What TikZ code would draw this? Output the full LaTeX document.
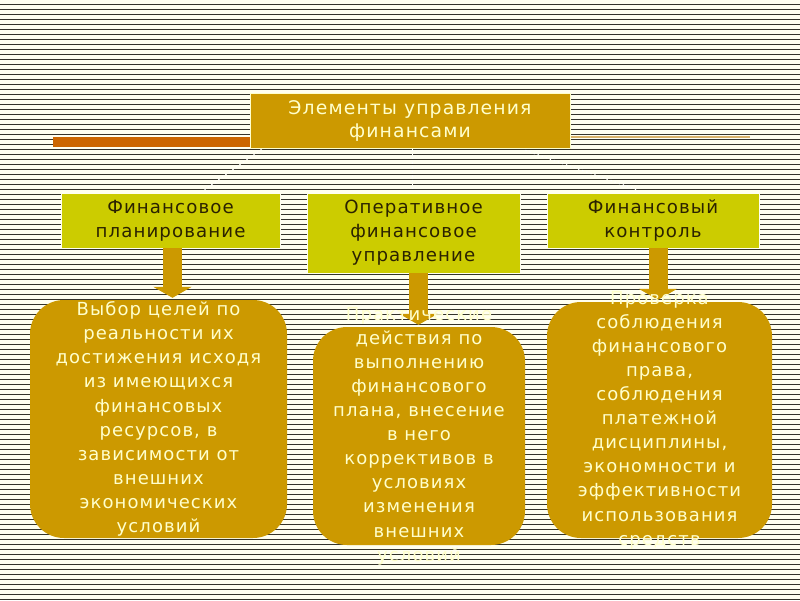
\documentclass[tikz,border=0pt]{standalone}
\usepackage{fontspec}
\setmainfont{DejaVu Sans}[LetterSpace=6]
\usetikzlibrary{arrows.meta,calc}
\definecolor{bgcream}{HTML}{FFFFF0}
\definecolor{stripecol}{HTML}{34332A}
\definecolor{gold}{HTML}{CC9900}
\definecolor{lime}{HTML}{CCCC00}
\definecolor{orangebar}{HTML}{CC6600}
\definecolor{tanline}{HTML}{D9B36B}
\definecolor{lighttext}{HTML}{FFFFCC}
\definecolor{darktext}{HTML}{2B2200}
\tikzset{
  stripe/.style={stripecol,line width=1.3pt},
  topbox/.style={fill=gold,draw=lighttext,line width=0.8pt,inner sep=0pt,
    minimum width=320pt,minimum height=55pt,align=center,text=lighttext,
    font=\fontsize{18.8}{23}\selectfont},
  midbox/.style={fill=lime,draw=bgcream,line width=0.8pt,inner sep=0pt,
    align=center,text=darktext,font=\fontsize{18.2}{24}\selectfont},
  roundbox/.style={fill=gold,rounded corners=34pt,inner sep=0pt},
  roundtext/.style={align=center,text=lighttext,inner sep=0pt,
    font=\fontsize{18}{24.1}\selectfont},
  blockarrow/.style={gold,line width=19pt,
    -{Triangle[width=38pt,length=11pt]},shorten >=2pt},
  dotcon/.style={white,line width=1.3pt,dash pattern=on 1.3pt off 3pt}
}
\begin{document}
\begin{tikzpicture}[x=1pt,y=-1pt]
\useasboundingbox (0,0) rectangle (800,600);
\fill[bgcream] (0,0) rectangle (800,600);
\foreach \i in {0,...,119}
  \draw[stripe] (0,{4.5+5*\i}) -- (800,{4.5+5*\i});

% decorative bars
\fill[orangebar] (53,137) rectangle (250,147);
\draw[tanline,line width=1.6pt] (571,137) -- (750,137);

% top box
\node[topbox] (t) at (410,120.5) {Элементы управления\\финансами};

% second level boxes
\node[midbox,minimum width=219pt,minimum height=55pt] (p1) at (170.5,220.5)
  {Финансовое\\планирование};
\node[midbox,minimum width=213pt,minimum height=80pt] (p2) at (413.5,233)
  {Оперативное\\финансовое\\управление};
\node[midbox,minimum width=212pt,minimum height=55pt] (p3) at (653,220.5)
  {Финансовый\\контроль};

% dotted connectors
\draw[dotcon] ($(t.south west)+(12,1)$) -- ($(p1.north west)+(144,-3)$);
\draw[dotcon] ($(t.south west)+(163,1)$) -- ($(p2.north west)+(106,-3)$);
\draw[dotcon] ($(t.south east)+(-45,2)$) -- ($(p3.north west)+(90,-3)$);

% rounded boxes
\node[roundbox,minimum width=257pt,minimum height=238pt] (r1) at (158.5,419) {};
\node[roundbox,minimum width=212pt,minimum height=218pt] (r2) at (419,436) {};
\node[roundbox,minimum width=225pt,minimum height=236pt] (r3) at (659.5,420) {};

% arrows
\coordinate (a1) at ($(p1.south)+(2,0)$);
\coordinate (a2) at ($(p2.south)+(5,0)$);
\coordinate (a3) at ($(p3.south)+(5,0)$);
\draw[blockarrow] (a1) -- (a1|-r1.north);
\draw[blockarrow] (a2) -- (a2|-r2.north);
\draw[blockarrow] (a3) -- (a3|-r3.north);

% texts
\node[roundtext] (x1) at (r1.center) {Выбор целей по\\реальности их\\достижения исходя\\из имеющихся\\финансовых\\ресурсов, в\\зависимости от\\внешних\\экономических\\условий};
\node[roundtext] (x2) at (r2.center) {Практические\\действия по\\выполнению\\финансового\\плана, внесение\\в него\\коррективов в\\условиях\\изменения\\внешних\\условий};
\node[roundtext] (x3) at (r3.center) {Проверка\\соблюдения\\финансового\\права,\\соблюдения\\платежной\\дисциплины,\\экономности и\\эффективности\\использования\\средств};
\end{tikzpicture}
\end{document}
